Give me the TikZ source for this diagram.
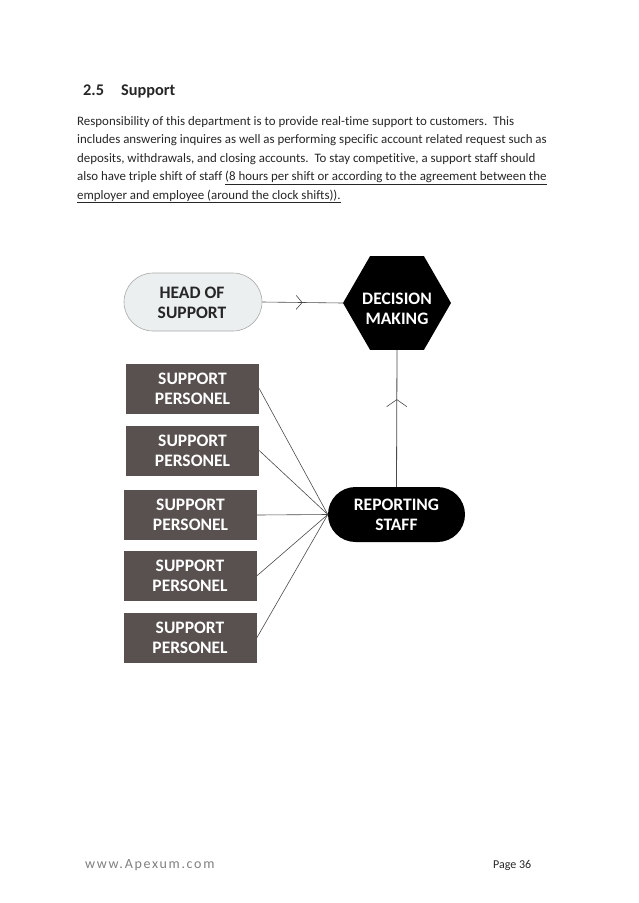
\documentclass[tikz,border=0pt]{standalone}
\usepackage{fontspec}
\setmainfont{Carlito}[Ligatures={NoCommon}]
\newfontfamily\footfont{Carlito}[LetterSpace=12]
\usetikzlibrary{shapes.geometric,arrows.meta,decorations.markings}
\definecolor{boxgray}{HTML}{59514F}
\definecolor{headfill}{HTML}{ECEFEF}
\definecolor{headline}{HTML}{A8AAAA}
\definecolor{linegray}{HTML}{4A4A4A}
\definecolor{textdark}{HTML}{262626}
\definecolor{footgray}{HTML}{808080}
\begin{document}
\begin{tikzpicture}[x=1pt,y=-1pt,
  body/.style={anchor=base west,inner sep=0,font=\fontsize{12.9}{15}\selectfont,text=textdark},
  heading/.style={anchor=base west,inner sep=0,font=\bfseries\fontsize{16.3}{18}\selectfont,text=textdark},
  pers/.style={rectangle,fill=boxgray,minimum width=133pt,minimum height=50pt,inner sep=0,
    text=white,font=\bfseries\fontsize{17.5}{20}\selectfont,align=center},
  headbox/.style={rectangle,rounded corners=29pt,minimum width=138pt,minimum height=58pt,inner sep=0,
    fill=headfill,draw=headline,line width=0.6pt},
  pillblack/.style={rectangle,rounded corners=27.5pt,minimum width=137pt,minimum height=55pt,inner sep=0,fill=black},
  hexa/.style={regular polygon,regular polygon sides=6,minimum size=108pt,inner sep=0,fill=black},
  boxtext/.style={inner sep=0,font=\bfseries\fontsize{17.5}{20}\selectfont,align=center},
  conn/.style={draw=linegray,line width=0.6pt},
  midarrow/.style n args={3}{postaction={decorate},decoration={markings,
    mark=at position #1 with {\arrow{Straight Barb[length=#2,width=#3,line width=0.6pt]}}}}
]
\useasboundingbox[fill=white] (0,0) rectangle (638,903);

% heading and paragraph
\node[heading] (hnum) at (83,95) {2.5};
\node[heading] (htitle) at (121,95) {Support};
\node[body] (l1) at (77,125) {Responsibility of this department is to provide real-time support to customers.\ \ This};
\node[body] (l2) at (77,143.5) {includes answering inquires as well as performing specific account related request such as};
\node[body] (l3) at (77,162) {deposits, withdrawals, and closing accounts.\ \ To stay competitive, a support staff should};
\node[body] (l4) at (77,180.5) {also have triple shift of staff \underline{(8 hours per shift or according to the agreement between the}};
\node[body] (l5) at (77,199) {\underline{employer and employee (around the clock shifts)).}};

% diagram
\node[headbox] (hs) at (193,302) {};
\node[boxtext,text=textdark] (hstext) at (192,302.5) {HEAD OF\\SUPPORT};
\node[hexa] (dm) at (397,303) {};
\node[boxtext,text=white] (dmtext) at (397,309) {DECISION\\MAKING};
\node[pillblack] (rs) at (396.5,514.5) {};
\node[boxtext,text=white] (rstext) at (396.5,515) {REPORTING\\STAFF};

\node[pers] (p1) at (192.5,388.5) {SUPPORT\\PERSONEL};
\node[pers] (p2) at (192.5,450.5) {SUPPORT\\PERSONEL};
\node[pers] (p3) at (190.5,515) {SUPPORT\\PERSONEL};
\node[pers] (p4) at (190,576) {SUPPORT\\PERSONEL};
\node[pers] (p5) at (190,638) {SUPPORT\\PERSONEL};

\draw[conn,midarrow={0.5}{6pt}{14pt}] (hs.east) -- (dm.west);
\draw[conn,line width=0.8pt,midarrow={0.64}{7pt}{20pt}] (rs.north) -- (dm.south);
\foreach \p in {p1,p2,p3,p4,p5} \draw[conn] (\p.east) -- (rs.west);

% footer
\node[anchor=base west,inner sep=0,font=\footfont\fontsize{14}{16}\selectfont,text=footgray] (web) at (85,868) {www.Apexum.com};
\node[anchor=base west,inner sep=0,font=\fontsize{12}{14}\selectfont,text=textdark] (page) at (493,868) {Page 36};
\end{tikzpicture}
\end{document}
